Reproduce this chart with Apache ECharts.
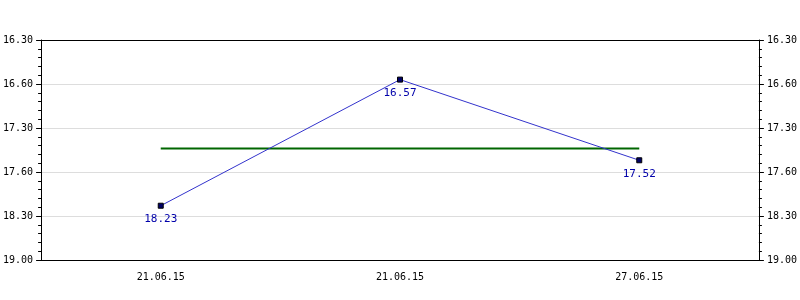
<!DOCTYPE html>
<html><head><meta charset="utf-8">
<script src="https://cdn.jsdelivr.net/npm/echarts@6/dist/echarts.min.js"></script>
<style>html,body{margin:0;padding:0;background:#fff}#c{width:800px;height:300px}</style>
</head><body><div id="c"></div>
<script>
// Data (values are times written as HH.MM)
const categories = ['21.06.15', '21.06.15', '27.06.15'];
const values = ['18.23', '16.57', '17.52'];
const yTickLabels = ['16.30', '16.60', '17.30', '17.60', '18.30', '19.00'];
const yMinTime = '16.30';
const yMaxTime = '19.00';

function toMinutes(s) { const p = s.split('.'); return (+p[0]) * 60 + (+p[1]); }
const seriesMinutes = values.map(toMinutes);
const avg = seriesMinutes.reduce((a, b) => a + b, 0) / seriesMinutes.length;
const avgData = categories.map(() => avg);
const yMin = toMinutes(yMinTime), yMax = toMinutes(yMaxTime), yStep = 30;

const font = 'DejaVu Sans Mono';
function yAxisDef(pos) {
  return {
    type: 'value', position: pos, inverse: true, min: yMin, max: yMax, interval: yStep,
    axisLine: { show: true, lineStyle: { color: '#000', width: 1 } },
    axisTick: { show: true, length: 5, lineStyle: { color: '#000' } },
    minorTick: { show: true, splitNumber: 5, length: 3, lineStyle: { color: '#000' } },
    splitLine: { show: pos === 'left', lineStyle: { color: '#dddddd', width: 1 } },
    axisLabel: { margin: 8, color: '#000', fontFamily: font, fontSize: 10,
      formatter: v => yTickLabels[Math.round((v - yMin) / yStep)] }
  };
}
const chart = echarts.init(document.getElementById('c'), null, { renderer: 'canvas' });
chart.setOption({
  animation: false,
  grid: { left: 40, right: 40, top: 40, bottom: 40, show: false },
  xAxis: [{
    type: 'category', data: categories, boundaryGap: true, position: 'bottom',
    axisLine: { lineStyle: { color: '#000' } },
    axisTick: { alignWithLabel: true, length: 5, lineStyle: { color: '#000' } },
    axisLabel: { margin: 12, color: '#000', fontFamily: font, fontSize: 10 },
    splitLine: { show: false }
  }, {
    type: 'category', data: categories, position: 'top',
    axisLine: { show: true, lineStyle: { color: '#000' } },
    axisTick: { show: false }, axisLabel: { show: false }, splitLine: { show: false }
  }],
  yAxis: [yAxisDef('left'), yAxisDef('right')],
  series: [
    { type: 'line', data: avgData, symbol: 'none', lineStyle: { color: '#006600', width: 2 }, z: 2, silent: true },
    { type: 'line', data: seriesMinutes, symbol: 'rect', symbolSize: 5,
      lineStyle: { color: '#3333cc', width: 1 },
      itemStyle: { color: '#000066', borderColor: '#000', borderWidth: 1 },
      label: { show: true, position: 'bottom', distance: 5, color: '#0000aa', fontFamily: font, fontSize: 11,
        formatter: p => values[p.dataIndex] }, z: 3 }
  ]
});
</script></body></html>
